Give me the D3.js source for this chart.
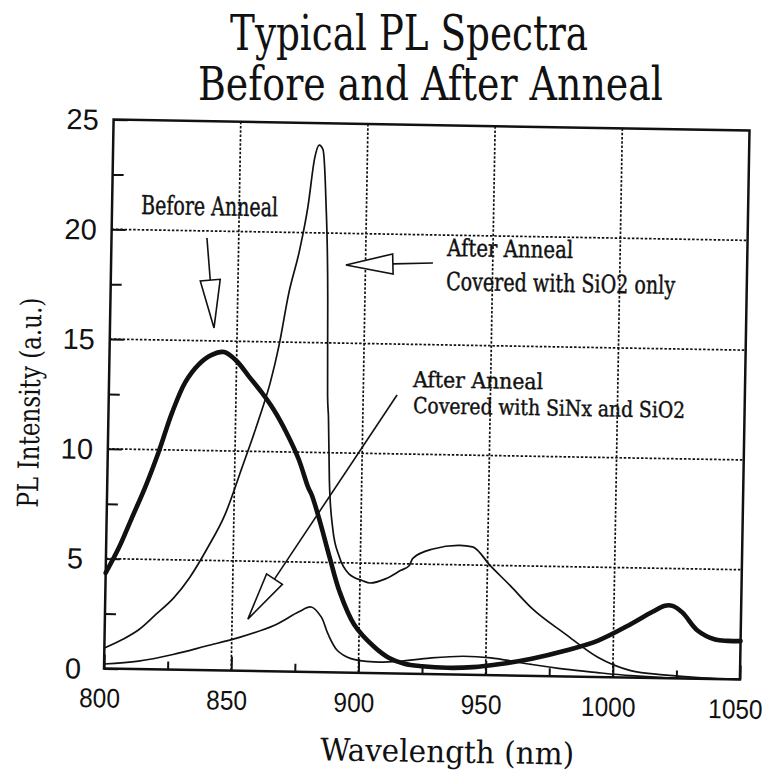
<!DOCTYPE html>
<html>
<head>
<meta charset="utf-8">
<script src="https://cdn.jsdelivr.net/npm/d3@7"></script>
<style>
  html, body { margin: 0; padding: 0; background: #fff; }
  svg { display: block; }
</style>
</head>
<body>
<svg id="chart" width="768" height="774"></svg>
<script>
// ---- data -------------------------------------------------------------
const xTicks = [800, 850, 900, 950, 1000, 1050];
const yTicks = [0, 5, 10, 15, 20, 25];

// PL spectrum before anneal (wavelength nm, intensity a.u.)
const beforeWl  = [800, 805, 810, 815, 820, 825, 830, 835, 840, 845, 850, 855, 860, 865, 870, 875, 879, 880.5, 884, 888, 892, 898, 906, 912, 918, 925, 935, 945, 955, 968, 981, 994, 1007, 1015, 1020, 1023, 1027, 1033, 1040, 1045, 1050];
const beforeVal = [4.35, 5.5, 6.9, 8.3, 9.9, 11.7, 13.1, 13.9, 14.35, 14.5, 14.1, 13.4, 12.7, 11.9, 10.9, 9.7, 8.4, 8.05, 6.8, 5.2, 3.7, 2.2, 1.2, 0.7, 0.45, 0.35, 0.3, 0.35, 0.5, 0.78, 1.17, 1.66, 2.45, 3.0, 3.3, 3.3, 3.0, 2.2, 1.8, 1.75, 1.75];

// after anneal, covered with SiO2 only
const sio2Wl  = [800, 807, 813.5, 820, 827, 833, 840, 846.5, 853, 859.5, 863.5, 866.5, 870, 874, 877, 879.3, 881, 882.5, 884, 885.4, 886, 886.5, 887.3, 889, 891.6, 895.6, 901, 904, 910, 916, 919.3, 920.6, 928.5, 939, 944, 951, 959, 968, 981, 994, 1007, 1020, 1035, 1050];
const sio2Val = [0.93, 1.33, 1.8, 2.5, 3.28, 4.2, 5.6, 7.1, 9.3, 11.6, 13.2, 14.8, 17.2, 19.2, 21.2, 23.4, 24.0, 23.8, 21.5, 17.0, 12.6, 11.6, 8.7, 6.5, 5.3, 4.5, 4.2, 4.1, 4.3, 4.7, 4.93, 5.26, 5.7, 5.88, 5.83, 5.0, 4.1, 3.05, 1.94, 0.9, 0.32, 0.15, 0.05, 0.02];

// after anneal, covered with SiNx and SiO2
const sinxWl  = [800, 813.5, 827, 840, 853, 866.5, 876, 881, 885, 887.7, 891.6, 897, 906, 916, 928, 941, 952, 968, 981, 994, 1007, 1020, 1050];
const sinxVal = [0.2, 0.36, 0.69, 1.1, 1.52, 2.09, 2.72, 2.96, 2.52, 1.77, 1.0, 0.64, 0.51, 0.56, 0.73, 0.84, 0.79, 0.52, 0.33, 0.2, 0.09, 0.03, 0.0];

// annotation text and arrows, anchored in data units
const notes = [
  { text: "Before Anneal", at: [811.4, 20.72], len: 137, size: 26 },
  { text: "After Anneal", at: [932.0, 19.05], len: 126, size: 24 },
  { text: "Covered with SiO2 only", at: [931.8, 17.50], len: 229, size: 25 },
  { text: "After Anneal", at: [919.5, 13.06], len: 130, size: 22 },
  { text: "Covered with SiNx and SiO2", at: [919.7, 11.87], len: 272, size: 22 }
];
const arrows = [
  { tail: [837.5, 19.68], tip: [840.9, 15.59], head: 48, half: 10 },
  { tail: [926.5, 18.72], tip: [892.3, 18.56], head: 47, half: 10 },
  { tail: [913.3, 12.68], tip: [856.2, 2.36], head: 48, half: 9.5 }
];

// ---- layout -----------------------------------------------------------
const svg = d3.select("#chart");
const plot = { left: 108.75, top: 125, width: 636, height: 549 };
const cx = plot.left + plot.width / 2, cy = plot.top + plot.height / 2;

const x = d3.scaleLinear().domain([800, 1050]).range([0, plot.width]);
const y = d3.scaleLinear().domain([0, 25]).range([plot.height, 0]);

const serif = "'DejaVu Serif Condensed', 'DejaVu Serif', 'Liberation Serif', serif";
const sans = "'Liberation Sans', Arial, sans-serif";
const ink = "#111";

// title
const title = svg.append("g").attr("font-family", serif).attr("font-stretch", "condensed").attr("fill", ink);
title.append("text").attr("x", 409).attr("y", 50).attr("text-anchor", "middle")
  .attr("font-size", 48).attr("textLength", 358).attr("lengthAdjust", "spacingAndGlyphs")
  .text("Typical PL Spectra");
title.append("text").attr("x", 430.5).attr("y", 100).attr("text-anchor", "middle")
  .attr("font-size", 47).attr("textLength", 465).attr("lengthAdjust", "spacingAndGlyphs")
  .text("Before and After Anneal");

// the whole plotting area sits slightly tilted
const tilt = svg.append("g").attr("transform", `rotate(1, ${cx}, ${cy})`);
const g = tilt.append("g").attr("transform", `translate(${plot.left},${plot.top})`);

// dotted grid
const grid = g.append("g").attr("stroke", ink).attr("stroke-width", 1.7)
  .attr("stroke-dasharray", "2.5,1.8").attr("fill", "none");
grid.selectAll(".gx").data(xTicks.slice(1, -1)).join("line")
  .attr("x1", d => x(d)).attr("x2", d => x(d)).attr("y1", 0).attr("y2", plot.height);
grid.selectAll(".gy").data(yTicks.slice(1, -1)).join("line")
  .attr("y1", d => y(d)).attr("y2", d => y(d)).attr("x1", 0).attr("x2", plot.width);

// bottom axis: inward ticks, major and minor
const xMinor = d3.range(825, 1050, 50);
const bottom = g.append("g").attr("transform", `translate(0,${plot.height})`);
bottom.call(d3.axisBottom(x).tickValues(xTicks).tickSize(-14).tickFormat(""))
  .call(a => a.select(".domain").remove())
  .call(a => a.selectAll("line").attr("stroke", ink).attr("stroke-width", 2));
bottom.append("g").call(d3.axisBottom(x).tickValues(xMinor).tickSize(-8).tickFormat(""))
  .call(a => a.select(".domain").remove())
  .call(a => a.selectAll("line").attr("stroke", ink).attr("stroke-width", 2));
bottom.selectAll(".xlab").data(xTicks).join("text")
  .attr("x", d => x(d) - 4).attr("y", 39).attr("text-anchor", "middle")
  .attr("font-family", sans).attr("font-size", 27).attr("fill", ink)
  .attr("textLength", d => String(d).length * 13.6).attr("lengthAdjust", "spacingAndGlyphs")
  .text(d => d);

// left axis
const yMinor = d3.range(2.5, 25, 5);
const left = g.append("g");
left.call(d3.axisLeft(y).tickValues(yTicks).tickSize(-14).tickFormat(""))
  .call(a => a.select(".domain").remove())
  .call(a => a.selectAll("line").attr("stroke", ink).attr("stroke-width", 2));
left.append("g").call(d3.axisLeft(y).tickValues(yMinor).tickSize(-11).tickFormat(""))
  .call(a => a.select(".domain").remove())
  .call(a => a.selectAll("line").attr("stroke", ink).attr("stroke-width", 2));
left.selectAll(".ylab").data(yTicks).join("text")
  .attr("x", -31).attr("y", d => y(d)).attr("dy", "0.36em").attr("text-anchor", "middle")
  .attr("font-family", sans).attr("font-size", 29).attr("fill", ink)
  .text(d => d);

// frame
g.append("rect").attr("width", plot.width).attr("height", plot.height)
  .attr("fill", "none").attr("stroke", ink).attr("stroke-width", 2.5);

// axis titles
g.append("text").attr("x", plot.width / 2 + 26.5).attr("y", plot.height + 88)
  .attr("text-anchor", "middle").attr("font-family", serif).attr("font-stretch", "condensed")
  .attr("font-size", 31).attr("textLength", 254).attr("lengthAdjust", "spacingAndGlyphs").attr("fill", ink)
  .text("Wavelength (nm)");
g.append("text").attr("transform", `translate(-69,${plot.height / 2 + 10}) rotate(-90)`)
  .attr("text-anchor", "middle").attr("font-family", serif).attr("font-stretch", "condensed")
  .attr("font-size", 29).attr("textLength", 210).attr("lengthAdjust", "spacingAndGlyphs").attr("fill", ink)
  .text("PL Intensity (a.u.)");

// spectra
const zip = (a, b) => a.map((v, i) => [v, b[i]]);
const smooth = d3.line().x(d => x(d[0])).y(d => y(d[1])).curve(d3.curveCatmullRom.alpha(0.5));
const sharp = d3.line().x(d => x(d[0])).y(d => y(d[1])).curve(d3.curveMonotoneX);
const curves = g.append("g").attr("fill", "none").attr("stroke", ink)
  .attr("stroke-linejoin", "round").attr("stroke-linecap", "round");
curves.append("path").datum(zip(sio2Wl, sio2Val)).attr("d", sharp).attr("stroke-width", 1.7);
curves.append("path").datum(zip(sinxWl, sinxVal)).attr("d", smooth).attr("stroke-width", 1.7);
curves.append("path").datum(zip(beforeWl, beforeVal)).attr("d", smooth).attr("stroke-width", 4.6);

// hollow-headed arrows
const ann = g.append("g");
arrows.forEach(a => {
  const tx = x(a.tail[0]), ty = y(a.tail[1]);
  const px = x(a.tip[0]), py = y(a.tip[1]);
  const L = Math.hypot(px - tx, py - ty);
  const ux = (px - tx) / L, uy = (py - ty) / L;
  const bx = px - ux * a.head, by = py - uy * a.head;
  ann.append("line").attr("x1", tx).attr("y1", ty).attr("x2", bx).attr("y2", by)
    .attr("stroke", ink).attr("stroke-width", 1.6);
  ann.append("path")
    .attr("d", `M${px},${py}L${bx - uy * a.half},${by + ux * a.half}L${bx + uy * a.half},${by - ux * a.half}Z`)
    .attr("fill", "#fff").attr("stroke", ink).attr("stroke-width", 1.6).attr("stroke-linejoin", "miter");
});

ann.selectAll(".note").data(notes).join("text")
  .attr("x", d => x(d.at[0])).attr("y", d => y(d.at[1]))
  .attr("font-family", serif).attr("font-stretch", "condensed").attr("font-size", d => d.size)
  .attr("textLength", d => d.len).attr("lengthAdjust", "spacingAndGlyphs")
  .attr("fill", ink).attr("stroke", ink).attr("stroke-width", 0.4)
  .text(d => d.text);
</script>
</body>
</html>
